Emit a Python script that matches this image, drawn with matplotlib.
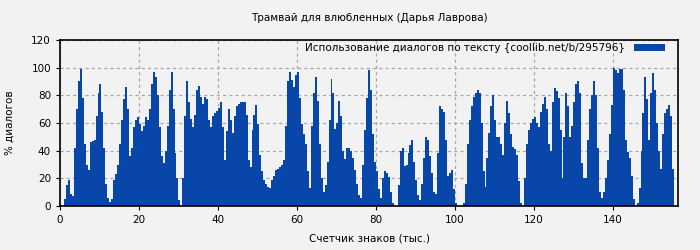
import numpy as np
import matplotlib
matplotlib.use("Agg")
import matplotlib.pyplot as plt

# счетчик знаков, шаг 0.5 тыс.
step = 0.5
dialog_pct = [
    0, 0, 5, 15, 19, 9, 7, 42, 70, 90, 99, 78, 45, 30, 26, 46, 47, 48, 65, 82,
    88, 68, 42, 16, 6, 3, 5, 19, 23, 30, 45, 62, 77, 86, 70, 36, 42, 57, 62, 64,
    59, 54, 58, 64, 62, 70, 88, 97, 93, 80, 57, 36, 31, 40, 58, 84, 97, 70, 38, 20,
    4, 0, 20, 65, 90, 75, 63, 57, 66, 84, 87, 79, 74, 79, 77, 62, 57, 65, 67, 69,
    71, 75, 57, 33, 54, 70, 62, 53, 65, 72, 74, 75, 75, 75, 66, 33, 28, 55, 66, 73,
    59, 37, 25, 19, 16, 14, 13, 19, 22, 26, 27, 28, 30, 33, 58, 90, 97, 91, 86, 95,
    97, 78, 59, 52, 45, 25, 13, 58, 82, 93, 76, 45, 20, 10, 15, 32, 62, 92, 82, 56,
    60, 76, 65, 40, 34, 42, 42, 40, 35, 26, 16, 8, 6, 30, 55, 78, 98, 84, 52, 32,
    25, 12, 6, 20, 25, 24, 21, 10, 2, 0, 0, 15, 40, 42, 29, 30, 38, 44, 48, 32,
    19, 8, 4, 16, 35, 50, 48, 36, 24, 10, 9, 38, 72, 70, 68, 48, 22, 24, 26, 12,
    2, 0, 0, 0, 2, 16, 45, 62, 72, 79, 82, 84, 82, 60, 25, 14, 35, 53, 72, 80,
    62, 50, 50, 45, 37, 60, 76, 67, 52, 43, 41, 37, 18, 2, 0, 20, 45, 55, 60, 63,
    64, 60, 57, 68, 74, 79, 70, 45, 40, 75, 85, 83, 78, 55, 20, 50, 82, 72, 50, 58,
    75, 88, 90, 82, 31, 20, 20, 48, 70, 80, 90, 80, 42, 10, 6, 10, 20, 33, 52, 73,
    100, 98, 96, 99, 99, 84, 48, 39, 35, 22, 5, 0, 2, 13, 40, 67, 93, 77, 48, 82,
    96, 84, 60, 40, 27, 52, 67, 70, 73, 65, 27,
]
x_tick_vals = [0, 20, 40, 60, 80, 100, 120, 140]
y_tick_vals = [0, 20, 40, 60, 80, 100, 120]

x = np.arange(len(dialog_pct)) * step

bg = "#f2f2f2"
fig = plt.figure(figsize=(7, 2.5), dpi=100, facecolor=bg)
ax = fig.add_axes([0.0857, 0.176, 0.8829, 0.664], facecolor=bg)

ax.bar(x, dialog_pct, width=step, align="edge", color="#0846aa", linewidth=0,
       label="Использование диалогов по тексту {coollib.net/b/295796}", zorder=2)

ax.set_xlim(0, 156.5)
ax.set_ylim(0, 120)
ax.set_xticks(x_tick_vals)
ax.set_yticks(y_tick_vals)
ax.tick_params(labelsize=7.5, length=3)
ax.grid(True, color="#a8a8a8", linestyle=(0, (2.5, 2.5)), linewidth=0.9, zorder=0)
ax.set_axisbelow(True)
for s in ax.spines.values():
    s.set_linewidth(1.2)

ax.set_title("Трамвай для влюбленных (Дарья Лаврова)", fontsize=7.5, pad=14)
ax.set_xlabel("Счетчик знаков (тыс.)", fontsize=7.5, labelpad=6)
ax.set_ylabel("% диалогов", fontsize=7.5, labelpad=12)
ax.legend(loc="upper right", bbox_to_anchor=(0.987, 1.012), frameon=False,
          fontsize=7.5, handlelength=3, handleheight=0.6, borderaxespad=0.2,
          handletextpad=0.8, markerfirst=False, borderpad=0.3)

fig.savefig("out.png", dpi=100, facecolor=bg)
